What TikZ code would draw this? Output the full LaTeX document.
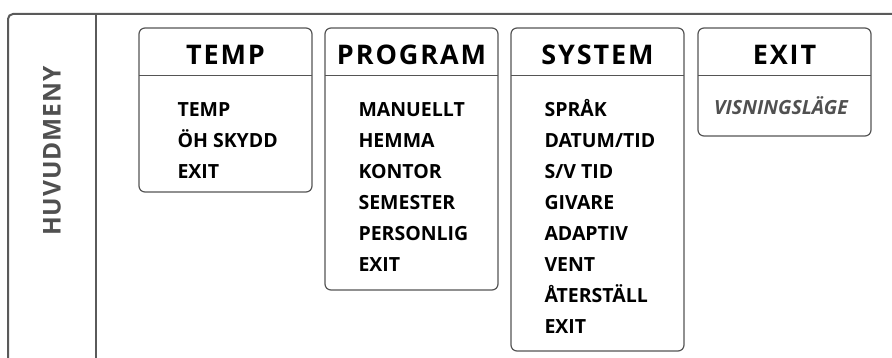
\documentclass[tikz,border=0pt]{standalone}
\usepackage{fontspec}
\setmainfont{Open Sans}
\newfontfamily\widefont[LetterSpace=7]{Open Sans}
\newfontfamily\sidefont[LetterSpace=4]{Open Sans}
\definecolor{framegray}{HTML}{5A5A5A}
\definecolor{boxgray}{HTML}{555555}
\definecolor{textgray}{HTML}{505050}
\begin{document}
\begin{tikzpicture}[x=1pt,y=-1pt,
    menubox/.style={draw=boxgray,line width=1.2pt,rounded corners=6pt},
    headline/.style={draw=boxgray,line width=0.9pt},
    title/.style={anchor=base,font=\widefont\bfseries\fontsize{27}{27}\selectfont},
    item/.style={anchor=base west,font=\bfseries\fontsize{19.5}{19.5}\selectfont}]
  \useasboundingbox (0,0) rectangle (892,358);
  \draw[framegray,line width=2pt,rounded corners=5pt] (8,358) -- (8,14) -- (892,14);
  \draw[framegray,line width=2pt] (96,14) -- (96,358);
  \node[rotate=90,textgray,font=\sidefont\bfseries\fontsize{24.5}{24.5}\selectfont] (main) at (52,151) {HUVUDMENY};

  \begin{scope}[xshift=139pt]
    \draw[menubox] (0,28) rectangle (173,192);
    \draw[headline] (0,75) -- (173,75);
    \node[title] (temp) at (86.5,65) {TEMP};
    \foreach[count=\i,evaluate={85.5+31*\i} as \y] \v in {TEMP,ÖH SKYDD,EXIT} {
      \node[item] (temp-\i) at (35,\y) {\v};
    }
  \end{scope}

  \begin{scope}[xshift=325pt]
    \draw[menubox] (0,28) rectangle (173,290);
    \draw[headline] (0,75) -- (173,75);
    \node[title] (prog) at (86.5,65) {PROGRAM};
    \foreach[count=\i,evaluate={85.5+31*\i} as \y] \v in {MANUELLT,HEMMA,KONTOR,SEMESTER,PERSONLIG,EXIT} {
      \node[item] (prog-\i) at (30,\y) {\v};
    }
  \end{scope}

  \begin{scope}[xshift=511pt]
    \draw[menubox] (0,28) rectangle (173,351);
    \draw[headline] (0,75) -- (173,75);
    \node[title] (sys) at (86.5,65) {SYSTEM};
    \foreach[count=\i,evaluate={85.5+31*\i} as \y] \v in {SPRÅK,DATUM/TID,S/V TID,GIVARE,ADAPTIV,VENT,ÅTERSTÄLL,EXIT} {
      \node[item] (sys-\i) at (30,\y) {\v};
    }
  \end{scope}

  \begin{scope}[xshift=698pt]
    \draw[menubox] (0,28) rectangle (173,136);
    \draw[headline] (0,75) -- (173,75);
    \node[title] (exit) at (86.5,65) {EXIT};
    \node[anchor=base,textgray,font=\bfseries\itshape\fontsize{19.5}{19.5}\selectfont] (view) at (83,115) {VISNINGSLÄGE};
  \end{scope}
\end{tikzpicture}
\end{document}
